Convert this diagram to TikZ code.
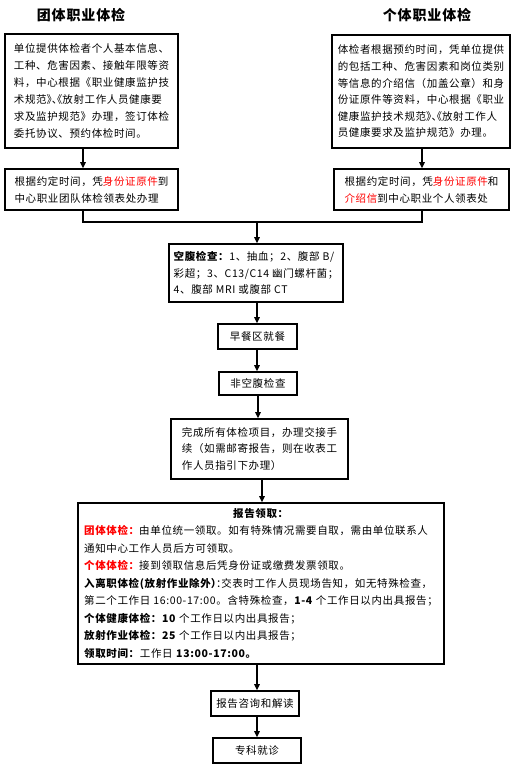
\documentclass[tikz,border=0pt]{standalone}
\usepackage{fontspec}
\setmainfont{Noto Sans CJK SC}[LetterSpace=6]
\newfontfamily\halffont{Noto Sans CJK SC}[RawFeature=+halt]
\usetikzlibrary{arrows.meta}
\definecolor{redtxt}{RGB}{255,0,0}
\tikzset{
  box/.style={draw=black, line width=1.6pt, inner sep=0pt, align=left,
    font=\fontsize{10.5}{17}\selectfont, anchor=center},
  arr/.style={line width=1.3pt, -{Triangle[length=6pt,width=5.5pt]}},
  conn/.style={line width=1.3pt},
  ttl/.style={font=\fontsize{14}{16}\selectfont\bfseries}
}
\newcommand{\rd}[1]{\textcolor{redtxt}{#1}}
\newcommand{\hp}[1]{{\halffont #1}}
\begin{document}
\begin{tikzpicture}[x=1pt,y=-1pt]
\useasboundingbox (0,0) rectangle (520,774);
\fill[white] (0,0) rectangle (520,774);
\node[ttl] (t1) at (81,15) {团体职业体检};
\node[ttl] (t2) at (427,15) {个体职业体检};

\node[box, minimum width=173pt, minimum height=114pt] (A) at (91.5,91)
 {单位提供体检者个人基本信息、\\工种、危害因素、接触年限等资\\料，中心根据《职业健康监护技\\术规范\hp{》、《}放射工作人员健康要\\求及监护规范》办理，签订体检\\委托协议、预约体检时间。};
\node[box, minimum width=173pt, minimum height=41pt] (B) at (91.5,189.5)
 {根据约定时间，凭\rd{身份证原件}到\\中心职业团队体检领表处办理};

\node[box, minimum width=178pt, minimum height=113pt, font=\fontsize{10.5}{16.6}\selectfont] (C) at (421,91.5)
 {体检者根据预约时间，凭单位提供\\的包括工种、危害因素和岗位类别\\等信息的介绍信（加盖公章）和身\\份证原件等资料，中心根据《职业\\健康监护技术规范\hp{》、《}放射工作人\\员健康要求及监护规范》办理。};
\node[box, minimum width=175pt, minimum height=41pt] (D) at (421.5,189.5)
 {根据约定时间，凭\rd{身份证原件}和\\\rd{介绍信}到中心职业个人领表处};

\coordinate (jL) at (83,222);
\coordinate (jR) at (422,222);
\coordinate (jM) at (257,222);
\draw[arr] (A.south -| jL) -- (B.north -| jL);
\draw[arr] (A.south -| jR) -- (D.north -| jR);
\draw[conn] (B.south -| jL) -- (jL) -- (jR) -- (D.south -| jR);

\node[box, minimum width=174pt, minimum height=58pt, font=\fontsize{10.5}{16.5}\selectfont] (E) at (256,273)
 {\textbf{空腹检查：}1、抽血；2、腹部 B/\\彩超；3、C13/C14 幽门螺杆菌；\\4、腹部 MRI 或腹部 CT};
\draw[arr] (jM) -- (E.north -| jM);

\node[box, minimum width=79pt, minimum height=25pt] (F) at (257.5,336.5) {早餐区就餐};
\node[box, minimum width=78pt, minimum height=23pt] (G) at (258,383.5) {非空腹检查};
\node[box, minimum width=177pt, minimum height=60pt, font=\fontsize{10.5}{16.5}\selectfont] (H) at (259.5,449)
 {完成所有体检项目，办理交接手\\续（如需邮寄报告，则在收表工\\作人员指引下办理）};

\node[box, minimum width=366pt, minimum height=161pt, font=\fontsize{10.5}{17.5}\selectfont] (I) at (261,583.5)
 {\begin{tabular}{@{}l@{}}
 \multicolumn{1}{@{}c@{}}{\textbf{报告领取：}}\\
 \textbf{\rd{团体体检：}}由单位统一领取。如有特殊情况需要自取，需由单位联系人\\
 通知中心工作人员后方可领取。\\
 \textbf{\rd{个体体检：}}接到领取信息后凭身份证或缴费发票领取。\\
 \textbf{入离职体检(放射作业除外\hp{）}}\hp{：}交表时工作人员现场告知，如无特殊检查，\\
 第二个工作日 16:00-17:00。含特殊检查，\textbf{1-4} 个工作日以内出具报告；\\
 \textbf{个体健康体检：10} 个工作日以内出具报告；\\
 \textbf{放射作业体检：25} 个工作日以内出具报告；\\
 \textbf{领取时间：}工作日 \textbf{13:00-17:00。}
 \end{tabular}};

\node[box, minimum width=88pt, minimum height=25pt] (J) at (255,703.5) {报告咨询和解读};
\node[box, minimum width=88pt, minimum height=25pt] (K) at (257,750.5) {专科就诊};

\draw[arr] (E.south -| jM) -- (F.north -| jM);
\draw[arr] (F.south -| jM) -- (G.north -| jM);
\draw[arr] (G.south) -- (H.north -| G.south);
\coordinate (hI) at (262,480);
\draw[arr] (H.south -| hI) -- (I.north -| hI);
\draw[arr] (I.south -| jM) -- (J.north -| jM);
\draw[arr] (J.south -| K.north) -- (K.north);
\end{tikzpicture}
\end{document}
